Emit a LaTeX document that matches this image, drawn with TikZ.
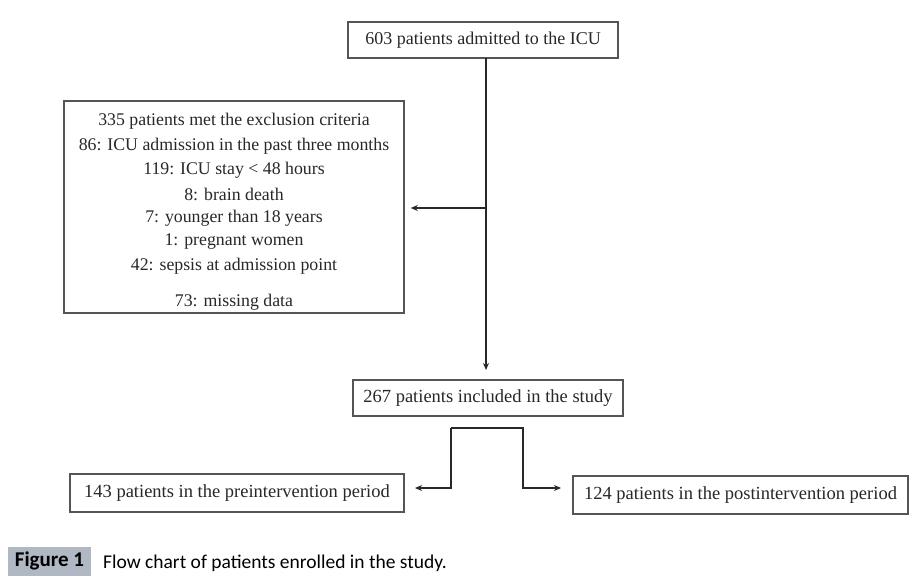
\documentclass[tikz,border=0pt]{standalone}
\usepackage{fontspec}
\setmainfont{Liberation Serif}
\newfontfamily\capfont{Carlito}
\usetikzlibrary{arrows.meta,calc}
\definecolor{boxline}{RGB}{85,85,85}
\definecolor{lineclr}{RGB}{40,40,40}
\definecolor{txtclr}{RGB}{40,40,40}
\definecolor{capgrey}{RGB}{176,184,196}
\begin{document}
\begin{tikzpicture}[x=1pt,y=-1pt,
  flowbox/.style={draw=boxline,line width=1.6pt,inner sep=0pt,text=txtclr,font=\fontsize{18}{21}\selectfont},
  bigtxt/.style={font=\fontsize{18.5}{21}\selectfont},
  arr/.style={draw=lineclr,line width=1.3pt,-{Stealth[length=7pt,width=6pt]}},
  conn/.style={draw=lineclr,line width=1.3pt}]
\useasboundingbox[fill=white] (0,0) rectangle (916,578);
\node[flowbox,minimum width=270pt,minimum height=36pt] (top) at (483,40) {603 patients admitted to the ICU};
\node[flowbox,minimum width=340pt,minimum height=212pt] (excl) at (234,207) {};
\foreach \t/\yy in {{335 patients met the exclusion criteria}/121,
  {86: ICU admission in the past three months}/146,
  {119: ICU stay < 48 hours}/170,
  {8: brain death}/194,
  {7: younger than 18 years}/218,
  {1: pregnant women}/242,
  {42: sepsis at admission point}/266,
  {73: missing data}/302}
  \node[text=txtclr,font=\fontsize{17.8}{21}\selectfont] at (234,\yy) {\t};
\node[flowbox,bigtxt,minimum width=270pt,minimum height=36pt] (incl) at (488,398) {267 patients included in the study};
\node[flowbox,bigtxt,minimum width=334pt,minimum height=38pt] (pre) at (237,493) {143 patients in the preintervention period};
\node[flowbox,bigtxt,minimum width=335pt,minimum height=38pt] (post) at (740.5,495) {124 patients in the postintervention period};
\coordinate (j) at (486,208);
\coordinate (jt) at (486,58);
\coordinate (jb) at (486,370);
\draw[arr] (jt) -- (jb);
\draw[arr] (j) -- ($(excl.east |- j)+(6,0)$);
\coordinate (sl) at (451,428);
\coordinate (sr) at (523,428);
\coordinate (al) at (415,488);
\coordinate (ar) at (561,488);
\draw[arr] (sl) -- (sr) |- (ar);
\draw[arr] (sl) |- (al);
\node[fill=capgrey,minimum width=83pt,minimum height=29pt,inner sep=0pt,font=\capfont\bfseries\fontsize{21}{23}\selectfont] (fig) at (49.5,561) {Figure 1};
\node[anchor=west,inner sep=0pt,font=\capfont\fontsize{19.5}{22}\selectfont] (cap) at (103,563) {Flow chart of patients enrolled in the study.};
\end{tikzpicture}
\end{document}
